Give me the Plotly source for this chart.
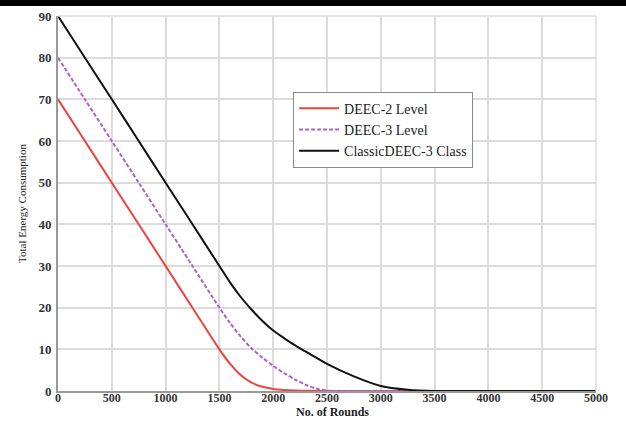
import plotly.graph_objects as go

rounds = [0, 250, 500, 750, 1000, 1250, 1500, 1600, 1700, 1800, 1900, 2000, 2100, 2200,
          2300, 2400, 2500, 2750, 3000, 3250, 3500, 4000, 4500, 5000]
deec2 = [70, 60, 50, 40, 30, 20, 10, 6.5, 3.8, 2.0, 1.0, 0.5, 0.25, 0.1,
         0.05, 0.02, 0, 0, 0, 0, 0, 0, 0, 0]
deec3 = [80, 70, 60, 50, 40, 30, 20, 16.3, 13, 10.2, 8, 6, 4.3, 2.8,
         1.5, 0.6, 0.1, 0, 0, 0, 0, 0, 0, 0]
classic = [90, 80, 70, 60, 50, 40, 30, 26, 22.5, 19.5, 16.8, 14.5, 12.7, 11,
           9.5, 8, 6.5, 3.5, 1.2, 0.3, 0, 0, 0, 0]

names = ["DEEC-2 Level", "DEEC-3 Level", "ClassicDEEC-3 Class"]
colors = ["#e8453c", "#b060c8", "#111111"]
dashes = ["solid", "4px,2px", "solid"]

fig = go.Figure()
for nm, ys, c, d in zip(names, [deec2, deec3, classic], colors, dashes):
    fig.add_trace(go.Scatter(x=rounds, y=ys, mode="lines", name=nm,
                             line=dict(color=c, width=2, dash=d, shape="spline", smoothing=0.8)))

font = "Liberation Serif"
PH = 421 - 16 - 30
fig.update_layout(
    width=626, height=421,
    margin=dict(l=58, r=30, t=16, b=30),
    paper_bgcolor="white", plot_bgcolor="white",
    font=dict(family=font, color="#333"),
    showlegend=True,
    legend=dict(x=0.437, y=0.798, xanchor="left", yanchor="top",
                bgcolor="white", bordercolor="#888", borderwidth=1,
                font=dict(family=font, size=14, color="#222"),
                itemwidth=40, tracegroupgap=2),
    xaxis=dict(range=[0, 5000], tick0=0, dtick=500, showgrid=True, gridcolor="#dcdcdc",
               gridwidth=1.5, showline=True, linecolor="#999", linewidth=2, mirror=False,
               zeroline=False, ticks="", tickfont=dict(family=font, size=12, color="#333", weight="bold"),
               ticklabelstandoff=-5, automargin=False),
    yaxis=dict(range=[0, 90], tick0=0, dtick=10, showgrid=True, gridcolor="#dcdcdc",
               gridwidth=1.5, showline=True, linecolor="#999", linewidth=2, mirror=False,
               zeroline=False, ticks="", tickfont=dict(family=font, size=13, color="#333", weight="bold"),
               ticklabelstandoff=2, automargin=False,
               title=dict(text="Total Energy Consumption", font=dict(family=font, size=11, color="#222"),
                          standoff=10)),
    annotations=[
        dict(text="<b>No. of Rounds</b>", xref="paper", yref="paper", x=0.511, y=-29 / PH,
             xanchor="center", yanchor="bottom", showarrow=False, borderpad=0,
             font=dict(family=font, size=12, color="#222")),
    ],
    shapes=[
        dict(type="rect", xref="paper", yref="paper", x0=-0.2, x1=1.2,
             y0=1 + 10 / PH, y1=1 + 17 / PH, fillcolor="black", line=dict(width=0), layer="above"),
        dict(type="line", xref="paper", yref="paper", x0=0, x1=1, y0=1, y1=1,
             line=dict(color="#ddd", width=1.5)),
        dict(type="line", xref="paper", yref="paper", x0=1, x1=1, y0=0, y1=1,
             line=dict(color="#ddd", width=1.5)),
    ],
)
fig.write_html("out.html")
